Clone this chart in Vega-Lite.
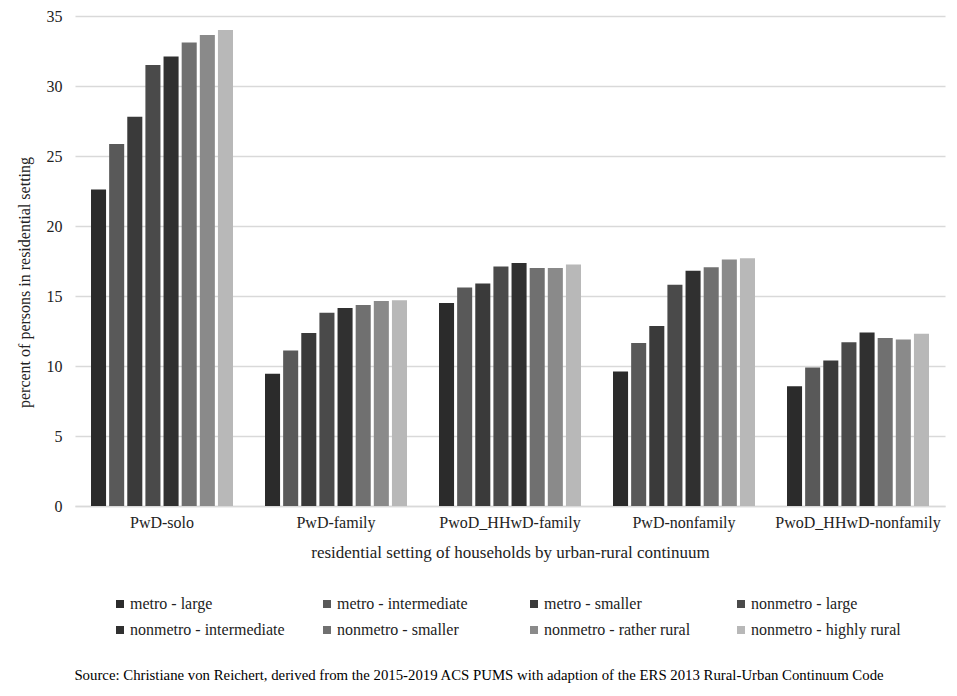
{
  "$schema": "https://vega.github.io/schema/vega-lite/v6.json",
  "width": 870,
  "height": 490,
  "autosize": {"type": "none"},
  "padding": {"left": 75, "top": 16, "right": 12, "bottom": 190},
  "background": "white",
  "title": {
    "text": "Source: Christiane von Reichert, derived from the 2015-2019 ACS PUMS with adaption of the ERS 2013 Rural-Urban Continuum Code",
    "orient": "bottom",
    "anchor": "middle",
    "offset": 30,
    "dx": -31,
    "font": "Liberation Serif",
    "fontSize": 14.8,
    "fontWeight": "normal",
    "color": "black"
  },
  "config": {
    "view": {"stroke": null},
    "font": "Liberation Serif",
    "legend": {"labelFont": "Liberation Serif"},
    "axis": {"labelFont": "Liberation Serif", "titleFont": "Liberation Serif"}
  },
  "data": {
    "values": [
      {"setting": "PwD-solo", "continuum": "metro - large", "percent": 22.6},
      {"setting": "PwD-solo", "continuum": "metro - intermediate", "percent": 25.85},
      {"setting": "PwD-solo", "continuum": "metro - smaller", "percent": 27.8},
      {"setting": "PwD-solo", "continuum": "nonmetro - large", "percent": 31.5},
      {"setting": "PwD-solo", "continuum": "nonmetro - intermediate", "percent": 32.1},
      {"setting": "PwD-solo", "continuum": "nonmetro - smaller", "percent": 33.1},
      {"setting": "PwD-solo", "continuum": "nonmetro - rather rural", "percent": 33.65},
      {"setting": "PwD-solo", "continuum": "nonmetro - highly rural", "percent": 34.0},
      {"setting": "PwD-family", "continuum": "metro - large", "percent": 9.45},
      {"setting": "PwD-family", "continuum": "metro - intermediate", "percent": 11.1},
      {"setting": "PwD-family", "continuum": "metro - smaller", "percent": 12.35},
      {"setting": "PwD-family", "continuum": "nonmetro - large", "percent": 13.8},
      {"setting": "PwD-family", "continuum": "nonmetro - intermediate", "percent": 14.15},
      {"setting": "PwD-family", "continuum": "nonmetro - smaller", "percent": 14.35},
      {"setting": "PwD-family", "continuum": "nonmetro - rather rural", "percent": 14.65},
      {"setting": "PwD-family", "continuum": "nonmetro - highly rural", "percent": 14.7},
      {"setting": "PwoD_HHwD-family", "continuum": "metro - large", "percent": 14.5},
      {"setting": "PwoD_HHwD-family", "continuum": "metro - intermediate", "percent": 15.6},
      {"setting": "PwoD_HHwD-family", "continuum": "metro - smaller", "percent": 15.9},
      {"setting": "PwoD_HHwD-family", "continuum": "nonmetro - large", "percent": 17.1},
      {"setting": "PwoD_HHwD-family", "continuum": "nonmetro - intermediate", "percent": 17.35},
      {"setting": "PwoD_HHwD-family", "continuum": "nonmetro - smaller", "percent": 17.0},
      {"setting": "PwoD_HHwD-family", "continuum": "nonmetro - rather rural", "percent": 17.0},
      {"setting": "PwoD_HHwD-family", "continuum": "nonmetro - highly rural", "percent": 17.25},
      {"setting": "PwD-nonfamily", "continuum": "metro - large", "percent": 9.6},
      {"setting": "PwD-nonfamily", "continuum": "metro - intermediate", "percent": 11.65},
      {"setting": "PwD-nonfamily", "continuum": "metro - smaller", "percent": 12.85},
      {"setting": "PwD-nonfamily", "continuum": "nonmetro - large", "percent": 15.8},
      {"setting": "PwD-nonfamily", "continuum": "nonmetro - intermediate", "percent": 16.8},
      {"setting": "PwD-nonfamily", "continuum": "nonmetro - smaller", "percent": 17.05},
      {"setting": "PwD-nonfamily", "continuum": "nonmetro - rather rural", "percent": 17.6},
      {"setting": "PwD-nonfamily", "continuum": "nonmetro - highly rural", "percent": 17.7},
      {"setting": "PwoD_HHwD-nonfamily", "continuum": "metro - large", "percent": 8.55},
      {"setting": "PwoD_HHwD-nonfamily", "continuum": "metro - intermediate", "percent": 9.9},
      {"setting": "PwoD_HHwD-nonfamily", "continuum": "metro - smaller", "percent": 10.4},
      {"setting": "PwoD_HHwD-nonfamily", "continuum": "nonmetro - large", "percent": 11.7},
      {"setting": "PwoD_HHwD-nonfamily", "continuum": "nonmetro - intermediate", "percent": 12.4},
      {"setting": "PwoD_HHwD-nonfamily", "continuum": "nonmetro - smaller", "percent": 12.0},
      {"setting": "PwoD_HHwD-nonfamily", "continuum": "nonmetro - rather rural", "percent": 11.9},
      {"setting": "PwoD_HHwD-nonfamily", "continuum": "nonmetro - highly rural", "percent": 12.3}
    ]
  },
  "mark": {"type": "bar"},
  "encoding": {
    "x": {
      "field": "setting",
      "type": "nominal",
      "sort": ["PwD-solo", "PwD-family", "PwoD_HHwD-family", "PwD-nonfamily", "PwoD_HHwD-nonfamily"],
      "scale": {"paddingInner": 0.184, "paddingOuter": 0.092},
      "axis": {
        "title": "residential setting of households by urban-rural continuum",
        "titleFontSize": 17,
        "titleFontWeight": "normal",
        "titleColor": "#222",
        "titlePadding": 14,
        "labelAngle": 0,
        "labelFontSize": 16,
        "labelColor": "#222",
        "labelPadding": 8,
        "ticks": false,
        "domain": true,
        "domainColor": "#d9d9d9",
        "domainWidth": 1.5,
        "grid": false
      }
    },
    "xOffset": {
      "field": "continuum",
      "type": "nominal",
      "sort": ["metro - large", "metro - intermediate", "metro - smaller", "nonmetro - large", "nonmetro - intermediate", "nonmetro - smaller", "nonmetro - rather rural", "nonmetro - highly rural"],
      "scale": {"paddingInner": 0.17, "paddingOuter": 0}
    },
    "y": {
      "field": "percent",
      "type": "quantitative",
      "scale": {"domain": [0, 35]},
      "axis": {
        "title": "percent of persons in residential setting",
        "titleFontSize": 16,
        "titleFontWeight": "normal",
        "titleColor": "#222",
        "titlePadding": 14,
        "titleY": 266,
        "values": [0, 5, 10, 15, 20, 25, 30, 35],
        "labelFontSize": 16,
        "labelColor": "#222",
        "labelPadding": 13,
        "ticks": false,
        "domain": false,
        "grid": true,
        "gridColor": "#d9d9d9",
        "gridWidth": 1.5
      }
    },
    "color": {
      "field": "continuum",
      "type": "nominal",
      "sort": ["metro - large", "metro - intermediate", "metro - smaller", "nonmetro - large", "nonmetro - intermediate", "nonmetro - smaller", "nonmetro - rather rural", "nonmetro - highly rural"],
      "scale": {
        "domain": ["metro - large", "metro - intermediate", "metro - smaller", "nonmetro - large", "nonmetro - intermediate", "nonmetro - smaller", "nonmetro - rather rural", "nonmetro - highly rural"],
        "range": ["#2b2b2b", "#595959", "#3a3a3a", "#4a4a4a", "#303030", "#707070", "#8a8a8a", "#b8b8b8"]
      },
      "legend": {
        "title": null,
        "orient": "none",
        "legendX": 37,
        "legendY": 580,
        "direction": "horizontal",
        "columns": 4,
        "gridAlign": "all",
        "columnPadding": 34,
        "rowPadding": 10,
        "symbolType": "square",
        "symbolSize": 64,
        "symbolStrokeWidth": 0,
        "labelFont": "Liberation Serif",
        "labelFontSize": 16,
        "labelColor": "#222",
        "labelOffset": 2
      }
    }
  }
}
